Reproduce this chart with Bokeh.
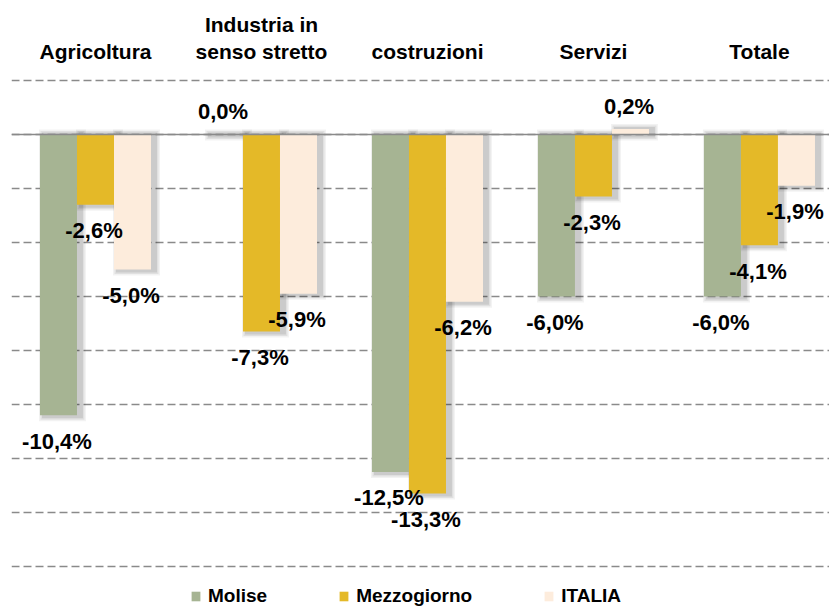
import numpy as np
from bokeh.plotting import figure
from bokeh.models import Range1d, Span, Legend, LegendItem, FixedTicker, Grid
from bokeh.core.properties import value
from bokeh.embed import file_html
from bokeh.resources import INLINE

categories = ["Agricoltura", "Industria in\nsenso stretto", "costruzioni", "Servizi", "Totale"]
series_names = ["Molise", "Mezzogiorno", "ITALIA"]
molise = [-10.4, 0.0, -12.5, -6.0, -6.0]
mezzogiorno = [-2.6, -7.3, -13.3, -2.3, -4.1]
italia = [-5.0, -5.9, -6.2, 0.2, -1.9]
grid_ticks = [2, 0, -2, -4, -6, -8, -10, -12, -14, -16]

colors = ["#A6B493", "#E4B928", "#FDECDC"]
FONT = "Liberation Sans"

# pixel scale helpers (px per data unit)
PX_X = 166.0
PX_Y = 27.0

p = figure(width=829, height=607, x_range=Range1d(-0.506, 4.422), y_range=Range1d(-17.52, 4.96),
           output_backend="svg", toolbar_location=None, x_axis_location=None, y_axis_location=None,
           min_border=0, min_border_left=11, outline_line_color=None, background_fill_color="white")
p.grid.grid_line_color = None
p.grid.visible = False

p.add_layout(Grid(dimension=1, ticker=FixedTicker(ticks=grid_ticks), grid_line_color="#8a8a8a",
                  grid_line_dash="8 4", grid_line_width=1.6))

xs = np.arange(len(categories))
bw = 0.223
offsets = [-bw, 0.0, bw]
all_vals = [molise, mezzogiorno, italia]

# soft shadows
for vals, off in zip(all_vals, offsets):
    v = np.array(vals)
    top = np.maximum(v, 0)
    bot = np.minimum(v, 0)
    for e, a in [(5, 0.05), (3.5, 0.07), (2, 0.09)]:
        p.quad(left=xs + off - bw / 2 + (4 - e) / PX_X, right=xs + off + bw / 2 + (4 + e) / PX_X,
               top=top + e / PX_Y, bottom=bot - (e + 1) / PX_Y,
               fill_color="black", fill_alpha=a, line_color=None)

renderers = []
for vals, off, c in zip(all_vals, offsets, colors):
    r = p.vbar(x=xs + off, top=vals, bottom=0, width=bw, fill_color=c, line_color=None)
    renderers.append(r)

p.add_layout(Span(location=0, dimension="width", line_color="#8a8a8a", line_width=1.6))

# value labels
for vals, off in zip(all_vals, offsets):
    v = np.array(vals)
    ly = np.where(v < 0, v - 26 / PX_Y, v + 23 / PX_Y)
    labels = [f"{x:.1f}".replace(".", ",") + "%" for x in vals]
    p.text(x=xs + off - 1.5 / PX_X, y=ly, text=labels, text_align="center", text_baseline="middle",
           text_font=value(FONT), text_font_style="bold", text_font_size="22px", text_color="black")

# category titles
p.text(x=xs, y=[2.63] * len(xs), text=categories, text_align="center", text_baseline="bottom",
       text_font=value(FONT), text_font_style="bold", text_font_size="21px", text_color="black",
       text_line_height=1.2)

legend = Legend(items=[LegendItem(label=n, renderers=[r]) for n, r in zip(series_names, renderers)],
                orientation="horizontal", location=(179, 0), padding=0, margin=0, spacing=71,
                glyph_width=11, glyph_height=12, label_standoff=7,
                label_text_font=FONT, label_text_font_style="bold", label_text_font_size="19px",
                label_text_color="black",
                border_line_color=None, background_fill_alpha=0)
p.add_layout(legend)

open("out.html", "w").write(file_html(p, INLINE))
